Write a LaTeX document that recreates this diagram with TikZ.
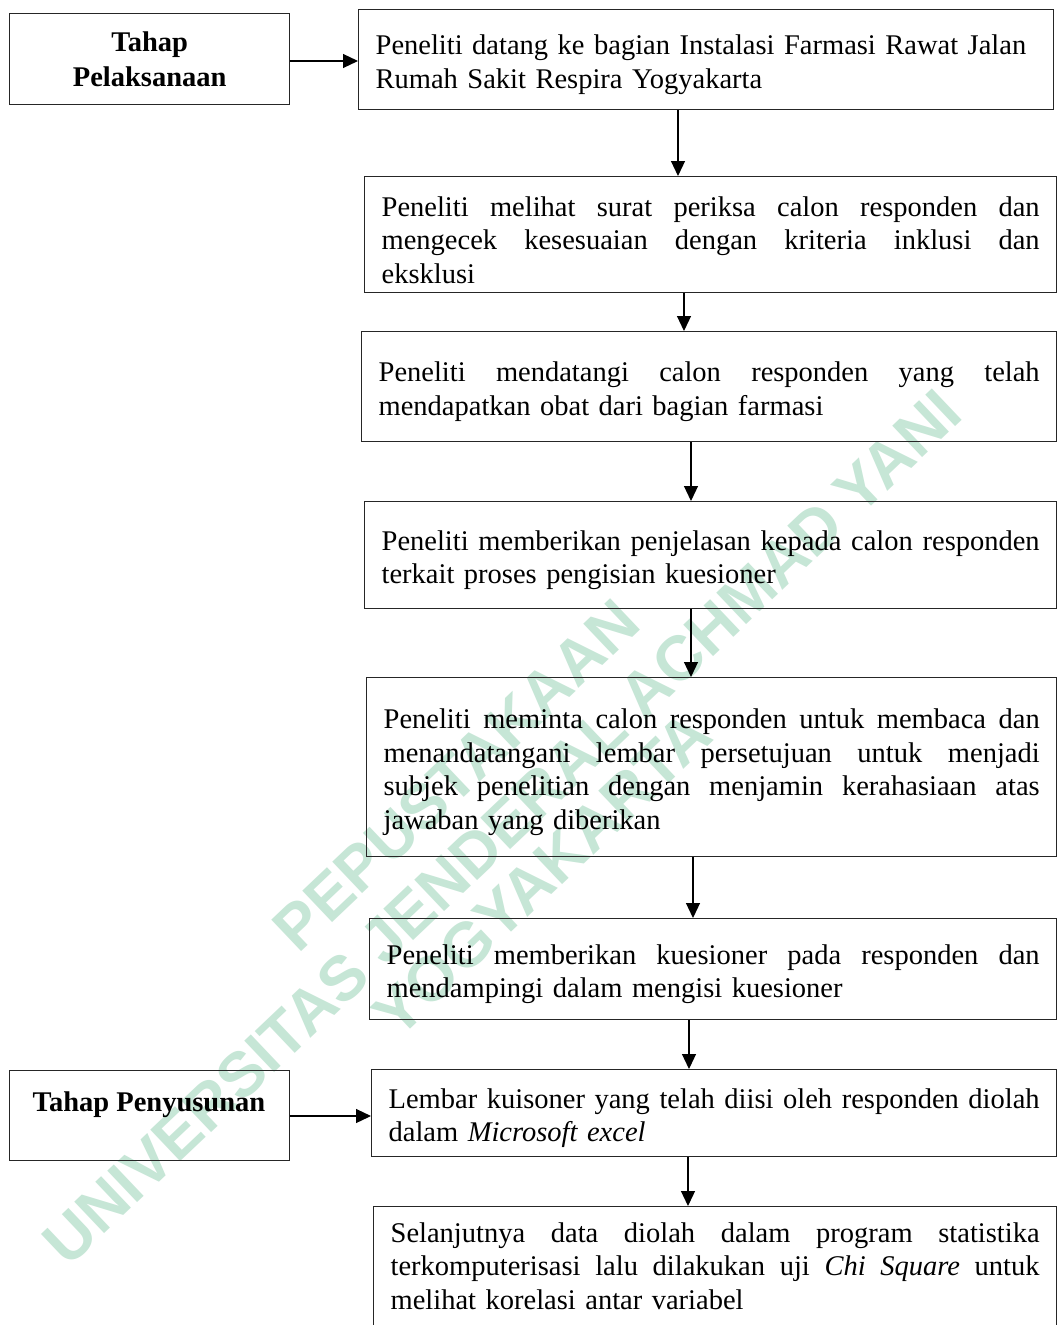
\documentclass[tikz,border=0pt]{standalone}
\usepackage{fontspec}
\setmainfont{Liberation Serif}
\newfontfamily\wmfont{Liberation Sans}
\usetikzlibrary{arrows.meta}
\definecolor{wmgreen}{RGB}{198,230,214}
\setlength{\parindent}{0pt}
\newcommand{\jl}[1]{\leavevmode\hbox to\hsize{\spaceskip=0.25em plus 1fil minus 0.1em\relax #1}}
\newcommand{\ft}{\rule{0pt}{30pt}}
\newcommand{\lt}{\rule[-6pt]{0pt}{6pt}}
\begin{document}
\begin{tikzpicture}[x=1pt,y=-1pt,
  box/.style={draw=black!85, line width=1.3pt, anchor=north west, inner xsep=17pt, inner ysep=0pt, align=left, font=\fontsize{28.5}{33.5}\selectfont},
  lbl/.style={draw=black!85, line width=1.3pt, anchor=north west, inner sep=0pt, align=center, font=\bfseries\fontsize{28.5}{35}\selectfont},
  lbltext/.style={inner sep=0pt, font=\bfseries\fontsize{28.5}{35}\selectfont},
  arr/.style={line width=1.2pt, -{Triangle[length=15pt,width=14pt]}},
  wm/.style={text=wmgreen, font=\wmfont\bfseries\fontsize{63}{63}\selectfont, inner sep=0pt, rotate=43.5}]

\useasboundingbox (0,0) rectangle (1057,1325);
\fill[white] (0,0) rectangle (1057,1325);
\clip (0,0) rectangle (1057,1325);

% watermark
\node[wm] (wm1) at (456,775) {PEPUSTAKAAN};
\node[wm] (wm2) at (502,827) {UNIVERSITAS JENDERAL ACHMAD YANI};
\node[wm] (wm3) at (542,874) {YOGYAKARTA};

% stage labels
\node[lbl, minimum width=280pt, minimum height=91pt] (l1) at (9,13) {Tahap\\Pelaksanaan};
\node[lbl, minimum width=280pt, minimum height=90pt] (l2) at (9,1070) {};
\node[lbltext] (l2t) at (149,1105) {Tahap Penyusunan};

% steps
\node[box, text width=661pt, minimum height=100pt] (b1) at (358,9)
  {\ft Peneliti datang ke bagian Instalasi Farmasi Rawat Jalan\\Rumah Sakit Respira Yogyakarta\lt};
\node[box, text width=658pt, minimum height=116pt] (b2) at (364,176)
  {\rule{0pt}{36pt}\jl{Peneliti melihat surat periksa calon responden dan}\\\jl{mengecek kesesuaian dengan kriteria inklusi dan}\\eksklusi\lt};
\node[box, text width=661pt, minimum height=110pt] (b3) at (361,331)
  {\ft\jl{Peneliti mendatangi calon responden yang telah}\\mendapatkan obat dari bagian farmasi\lt};
\node[box, text width=658pt, minimum height=107pt] (b4) at (364,501)
  {\ft\jl{Peneliti memberikan penjelasan kepada calon responden}\\terkait proses pengisian kuesioner\lt};
\node[box, text width=656pt, minimum height=179pt] (b5) at (366,677)
  {\ft\jl{Peneliti meminta calon responden untuk membaca dan}\\\jl{menandatangani lembar persetujuan untuk menjadi}\\\jl{subjek penelitian dengan menjamin kerahasiaan atas}\\jawaban yang diberikan\lt};
\node[box, text width=653pt, minimum height=101pt] (b6) at (369,918)
  {\ft\jl{Peneliti memberikan kuesioner pada responden dan}\\mendampingi dalam mengisi kuesioner\lt};
\node[box, text width=651pt, minimum height=87pt] (b7) at (371,1069)
  {\ft\jl{Lembar kuisoner yang telah diisi oleh responden diolah}\\dalam \textit{Microsoft excel}\lt};
\node[box, text width=649pt, minimum height=128pt] (b8) at (373,1206)
  {\ft\jl{Selanjutnya data diolah dalam program statistika}\\\jl{terkomputerisasi lalu dilakukan uji \textit{Chi Square} untuk}\\melihat korelasi antar variabel\rule[-20pt]{0pt}{20pt}};

% connectors
\coordinate (ya) at (0,61);
\coordinate (yb) at (0,1116);
\draw[arr] (l1.east |- ya) -- (b1.west |- ya);
\draw[arr] (l2.east |- yb) -- (b7.west |- yb);
\coordinate (x1) at (678,0);
\coordinate (x2) at (684,0);
\coordinate (x3) at (691,0);
\coordinate (x4) at (691,0);
\coordinate (x5) at (693,0);
\coordinate (x6) at (689,0);
\coordinate (x7) at (688,0);
\draw[arr] (b1.south -| x1) -- (b2.north -| x1);
\draw[arr] (b2.south -| x2) -- (b3.north -| x2);
\draw[arr] (b3.south -| x3) -- (b4.north -| x3);
\draw[arr] (b4.south -| x4) -- (b5.north -| x4);
\draw[arr] (b5.south -| x5) -- (b6.north -| x5);
\draw[arr] (b6.south -| x6) -- (b7.north -| x6);
\draw[arr] (b7.south -| x7) -- (b8.north -| x7);
\end{tikzpicture}
\end{document}
